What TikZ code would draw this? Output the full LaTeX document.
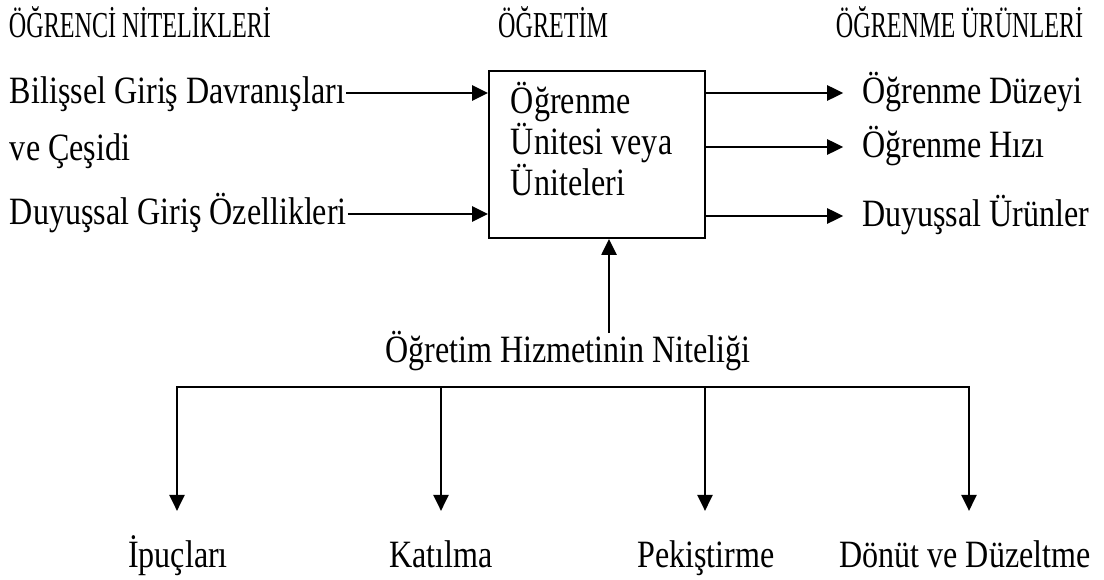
\documentclass[tikz,border=0pt]{standalone}
\usepackage{fontspec}
\setmainfont[FakeStretch=0.83]{Liberation Serif}
\newfontfamily\headfont[FakeStretch=0.66]{Liberation Serif}
\usetikzlibrary{arrows.meta}

\begin{document}
\begin{tikzpicture}[
    every node/.style={inner sep=0pt, font=\fontsize{27.5}{26.8}\selectfont},
    lbl/.style={anchor=west, text height=20pt, text depth=4.4pt},
    head/.style={anchor=west, font=\headfont\fontsize{26}{26}\selectfont},
    arr/.style={-{Triangle[length=0.4cm,width=0.38cm]}},
    line width=1.4pt
]
\useasboundingbox (0,0) rectangle (27.6,-14.5);

% Basliklar
\node[head] (ogrenci) at (0.2,-0.55) {ÖĞRENCİ NİTELİKLERİ};
\node[head] (ogretim) at (12.43,-0.55) {ÖĞRETİM};
\node[head] (urunler) at (20.875,-0.55) {ÖĞRENME ÜRÜNLERİ};

% Unite
\node[draw, minimum width=5.4cm, minimum height=4.175cm] (unit) at (14.925,-3.8625) {};
\node[anchor=north west, align=left] (unittxt) at (12.75,-2.03) {Öğrenme\\Ünitesi veya\\Üniteleri};

% Girdiler
\node[lbl] (bilis) at (0.225,-2.325) {Bilişsel Giriş Davranışları};
\node[lbl] (cesit) at (0.225,-3.75) {ve Çeşidi};
\node[lbl] (duyus) at (0.225,-5.35) {Duyuşsal Giriş Özellikleri};
\draw[arr] (bilis.east) -- (bilis.east -| unit.west);
\draw[arr] (duyus.east) -- (duyus.east -| unit.west);

% Ciktilar
\node[lbl] (duzey) at (21.53,-2.325) {Öğrenme Düzeyi};
\node[lbl] (hiz) at (21.53,-3.675) {Öğrenme Hızı};
\node[lbl] (urun) at (21.53,-5.4) {Duyuşsal Ürünler};
\foreach \n in {duzey,hiz,urun}
    \draw[arr, shorten >=0.45cm] (\n.west -| unit.east) -- (\n.west);

% Hizmet
\node[lbl, anchor=center] (nitelik) at (14.2,-8.8) {Öğretim Hizmetinin Niteliği};
\coordinate (foot) at (15.225,-8.325);
\draw[arr] (foot) -- (foot |- unit.south);

% Dallar
\coordinate (b1) at (4.425,-9.675);
\coordinate (b2) at (11.025,-9.675);
\coordinate (b3) at (17.625,-9.675);
\coordinate (b4) at (24.225,-9.675);
\draw[line cap=rect] (b1) -- (b4);
\node[lbl, anchor=center] (ipucu) at (4.45,-13.925) {İpuçları};
\node[lbl, anchor=center] (katilma) at (11.025,-13.925) {Katılma};
\node[lbl, anchor=center] (pekistirme) at (17.65,-13.925) {Pekiştirme};
\node[lbl, anchor=center] (donut) at (24.125,-13.925) {Dönüt ve Düzeltme};
\foreach \b/\n in {b1/ipucu, b2/katilma, b3/pekistirme, b4/donut}
    \draw[arr, shorten >=0.7cm] (\b) -- (\b |- \n.north);
\end{tikzpicture}
\end{document}
